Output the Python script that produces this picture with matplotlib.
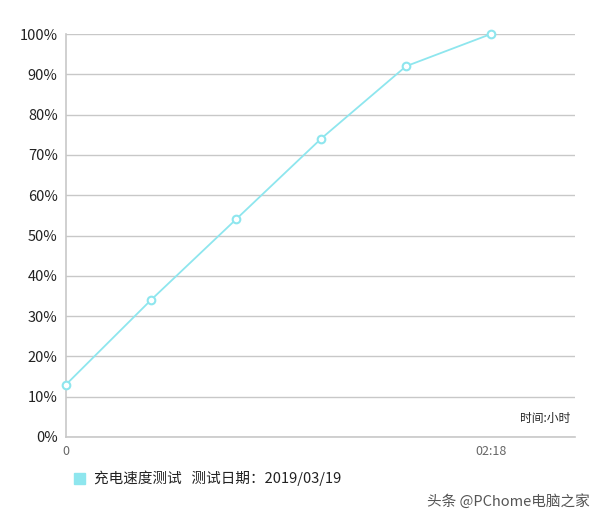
import matplotlib.pyplot as plt

plt.rcParams['font.family'] = ['Noto Sans CJK SC', 'DejaVu Sans']

steps = [0, 1, 2, 3, 4, 5]
charge = [13, 34, 54, 74, 92, 100]
yticks = [0, 10, 20, 30, 40, 50, 60, 70, 80, 90, 100]
xtick_pos = [0, 5]
xtick_labels = ["0", "02:18"]

fig = plt.figure(figsize=(6, 5.2), dpi=100)
ax = fig.add_axes([66 / 600, 1 - 437 / 520, (575 - 66) / 600, (437 - 34) / 520])

color = "#8ee6ee"
ax.plot(steps, charge, color=color, lw=1.3, marker="o", ms=5.5,
        mfc="white", mec=color, mew=1.5, clip_on=False, zorder=3)

ax.set_ylim(0, 100)
ax.set_xlim(0, 5 * (575 - 66) / (491 - 66))
ax.set_yticks(yticks)
ax.set_yticklabels([f"{v}%" for v in yticks], fontsize=10.5, color="#222222")
ax.set_xticks(xtick_pos)
ax.set_xticklabels(xtick_labels, fontsize=9, color="#666666")
ax.tick_params(length=0, pad=6)
ax.grid(axis="y", color="#c8c8c8", lw=1)
for s in ["top", "right"]:
    ax.spines[s].set_visible(False)
for s in ["left", "bottom"]:
    ax.spines[s].set_color("#c8c8c8")
    ax.spines[s].set_linewidth(1.2)

ax.text(0.99, 0.03, "时间:小时", transform=ax.transAxes, ha="right", va="bottom",
        fontsize=8.5, color="#222222")

fig.patches.append(plt.Rectangle((74 / 600, 1 - 484 / 520), 11 / 600, 11 / 520,
                                 transform=fig.transFigure, color=color))
fig.text(94 / 600, 1 - 478 / 520, "充电速度测试   测试日期：2019/03/19",
         fontsize=10.5, va="center", color="#222222")
fig.text(590 / 600, 1 - 501 / 520, "头条 @PChome电脑之家", fontsize=10.5,
         ha="right", va="center", color="#555555")

fig.savefig("out.png", dpi=100)
